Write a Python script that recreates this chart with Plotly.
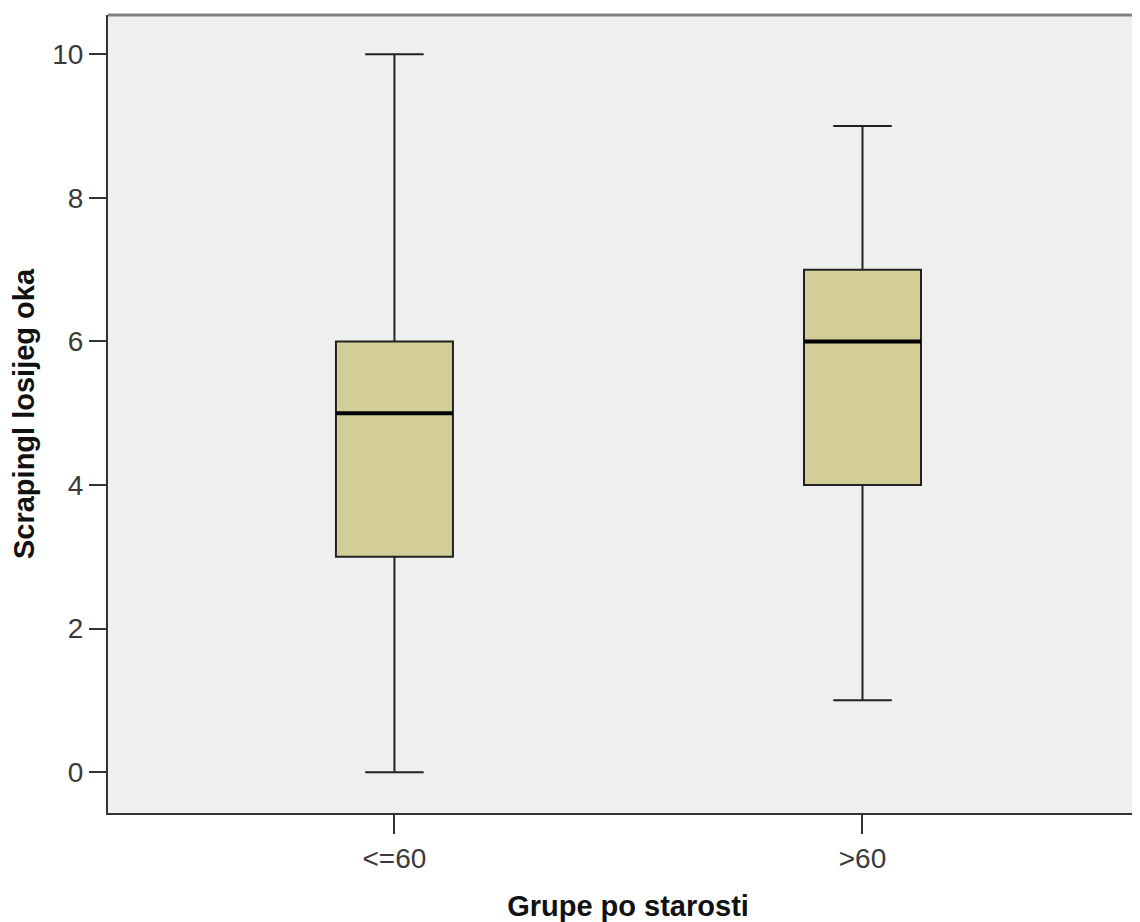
import plotly.graph_objects as go

categories = ["<=60", ">60"]
positions = [0, 1]
q1 = [3, 4]
median = [5, 6]
q3 = [6, 7]
lower = [0, 1]
upper = [10, 9]
y_ticks = [0, 2, 4, 6, 8, 10]

BOX_W = 0.25
FONT = "Liberation Sans, Arial, sans-serif"

fig = go.Figure()
fig.add_trace(go.Box(
    x=positions, q1=q1, median=median, q3=q3,
    lowerfence=lower, upperfence=upper,
    width=BOX_W, whiskerwidth=0.5,
    fillcolor="#D3CE97",
    line=dict(color="#222222", width=2),
    boxpoints=False, showlegend=False, hoverinfo="skip",
))
for p, m in zip(positions, median):
    fig.add_trace(go.Scatter(
        x=[p - BOX_W / 2, p + BOX_W / 2], y=[m, m],
        mode="lines", line=dict(color="#000000", width=4),
        showlegend=False, hoverinfo="skip",
    ))

# page body adds an 8px margin; the plot area runs past the right window edge as in the reference
fig.update_layout(
    width=1140, height=914,
    margin=dict(l=100, r=0, t=7, b=106),
    paper_bgcolor="white", plot_bgcolor="#EFEFEF",
    font=dict(family=FONT, color="#333333"),
    showlegend=False,
    shapes=[dict(type="line", xref="paper", yref="paper", x0=0, x1=1, y0=1, y1=1,
                 line=dict(color="#808080", width=3))],
)
fig.update_xaxes(
    range=[-0.612, 1.610], tickvals=positions, ticktext=categories,
    showgrid=False, zeroline=False,
    showline=True, linecolor="#333333", linewidth=2,
    ticks="outside", ticklen=19, tickwidth=2, tickcolor="#333333",
    tickfont=dict(size=28, color="#3a3a3a"),
    title=dict(text="<b>Grupe po starosti</b>", font=dict(size=29, color="#111111"), standoff=28),
)
fig.update_yaxes(
    range=[-0.569, 10.548], tickvals=y_ticks,
    showgrid=False, zeroline=False,
    showline=True, linecolor="#333333", linewidth=2,
    ticks="outside", ticklen=17, tickwidth=2, tickcolor="#333333",
    tickfont=dict(size=28, color="#3a3a3a"),
    title=dict(text="<b>Scrapingl losijeg oka</b>", font=dict(size=29, color="#111111"), standoff=21),
)

fig.write_html("out.html")
